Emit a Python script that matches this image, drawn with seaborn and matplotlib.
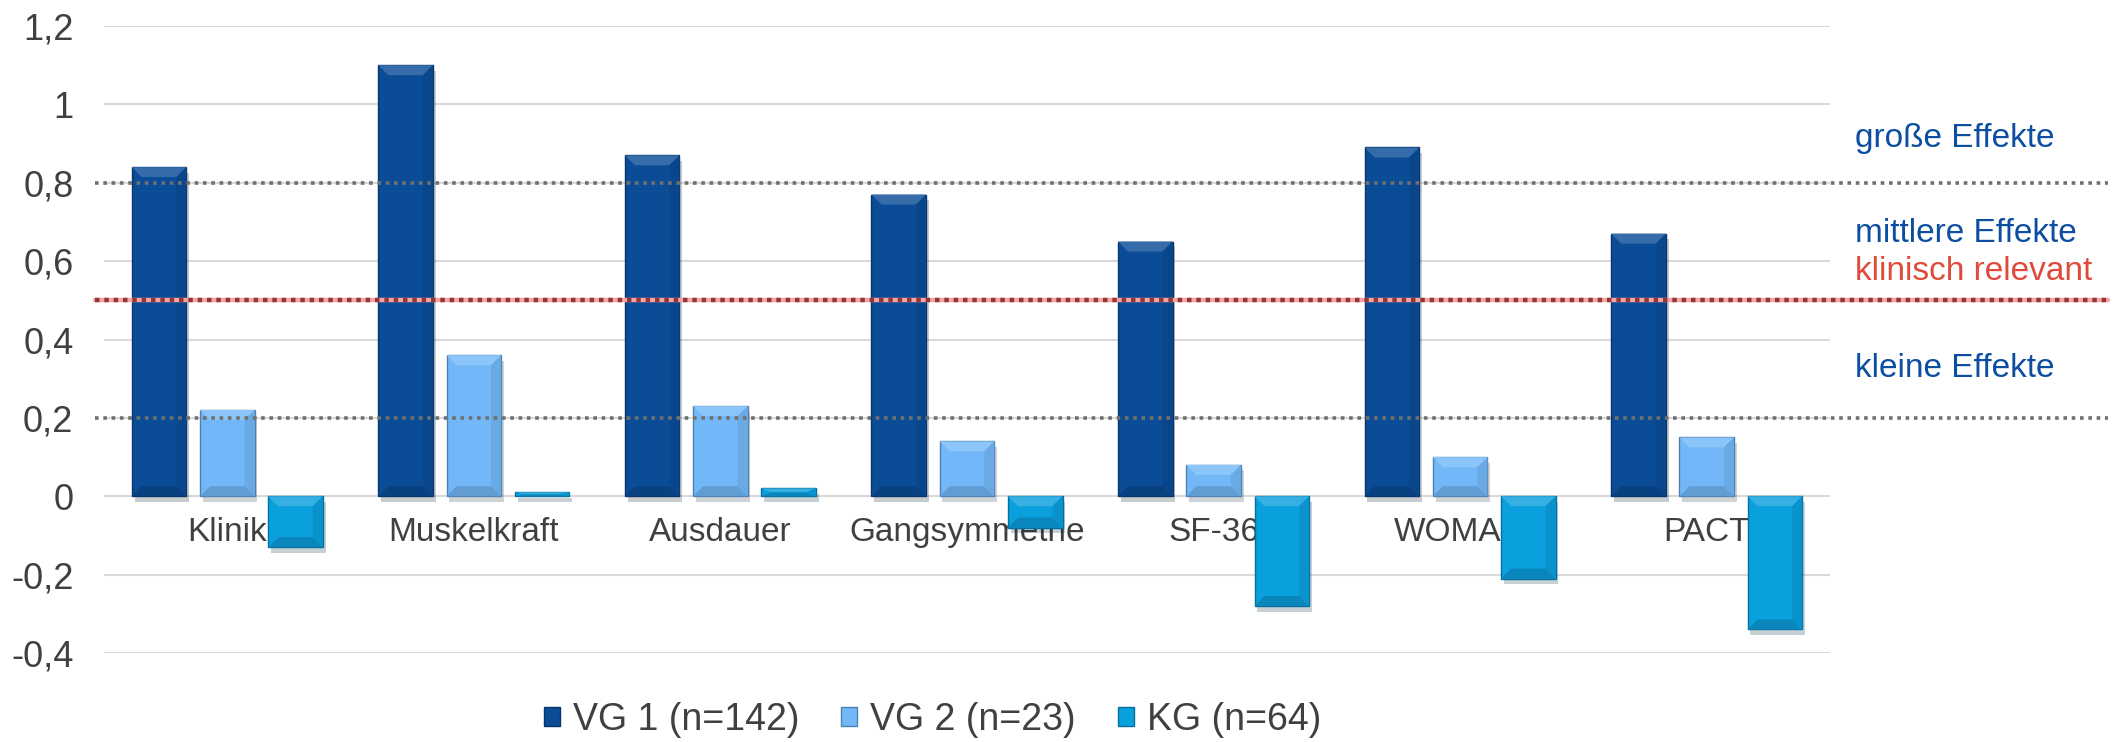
import pandas as pd
import matplotlib.pyplot as plt
import matplotlib.patheffects as pe
import matplotlib.colors as mcolors
from matplotlib.ticker import FuncFormatter
from matplotlib.patches import Patch, Polygon
import seaborn as sns

sns.set_style("white")
plt.rcParams['font.family'] = ['Liberation Sans', 'DejaVu Sans']

categories = ['Klinik', 'Muskelkraft', 'Ausdauer', 'Gangsymmetrie', 'SF-36', 'WOMAC', 'PACT']
groups = ['VG 1 (n=142)', 'VG 2 (n=23)', 'KG (n=64)']
vg1 = [0.84, 1.10, 0.87, 0.77, 0.65, 0.89, 0.67]
vg2 = [0.22, 0.36, 0.23, 0.14, 0.08, 0.10, 0.15]
kg = [-0.13, 0.01, 0.02, -0.08, -0.28, -0.21, -0.34]

bar_colors = ['#0B4C97', '#72B8F8', '#0A9FDD']

# effect size thresholds
thr_small, thr_clin, thr_large = 0.2, 0.5, 0.8
side_labels = [('große Effekte', 0.913, '#0B4EA2'),
               ('mittlere Effekte', 0.67, '#0B4EA2'),
               ('klinisch relevant', 0.574, '#E04A3A'),
               ('kleine Effekte', 0.327, '#0B4EA2')]

df = pd.DataFrame({
    'Kategorie': categories * 3,
    'Gruppe': [g for g in groups for _ in categories],
    'Wert': vg1 + vg2 + kg,
})


def mix(c, other, t):
    a = mcolors.to_rgb(c)
    b = mcolors.to_rgb(other)
    return tuple(a[i] * (1 - t) + b[i] * t for i in range(3))


W, H = 2127, 742
fig = plt.figure(figsize=(W / 100, H / 100), dpi=100)
ax = fig.add_axes([104 / W, 1 - 653 / H, 1726 / W, 627 / H])

sns.barplot(data=df, x='Kategorie', y='Wert', hue='Gruppe', palette=bar_colors, saturation=1,
            width=0.83, gap=0.2, ax=ax, legend=False, zorder=3)

ax.set_xlim(-0.5, len(categories) - 0.5)
ax.set_ylim(-0.4, 1.2)

# bevel look: lighter top facet, darker bottom facet
dx, dy = 10 / 246.6, 10 / 392
for i, cont in enumerate(ax.containers):
    base = bar_colors[i]
    for bar in cont:
        bar.set_edgecolor(mix(base, 'black', 0.3))
        bar.set_linewidth(1.0)
        bar.set_path_effects([pe.SimplePatchShadow(offset=(2, -4), alpha=0.22), pe.Normal()])
        x0 = bar.get_x()
        x1 = x0 + bar.get_width()
        y0 = min(bar.get_y(), bar.get_y() + bar.get_height())
        y1 = max(bar.get_y(), bar.get_y() + bar.get_height())
        d = min(dy, (y1 - y0) / 2)
        ax.add_patch(Polygon([(x0, y1), (x1, y1), (x1 - dx, y1 - d), (x0 + dx, y1 - d)],
                             closed=True, facecolor=mix(base, 'white', 0.18), lw=0, zorder=3.1))
        ax.add_patch(Polygon([(x0, y0), (x1, y0), (x1 - dx, y0 + d), (x0 + dx, y0 + d)],
                             closed=True, facecolor=mix(base, 'black', 0.15), lw=0, zorder=3.1))
        ax.add_patch(Polygon([(x1, y1), (x1, y0), (x1 - dx, y0 + d), (x1 - dx, y1 - d)],
                             closed=True, facecolor=mix(base, 'black', 0.08), lw=0, zorder=3.1))

ax.set_yticks([-0.4, -0.2, 0, 0.2, 0.4, 0.6, 0.8, 1.0, 1.2])
ax.yaxis.set_major_formatter(FuncFormatter(lambda v, p: f"{v:g}".replace('.', ',')))
ax.tick_params(axis='y', length=0, pad=22, labelsize=26, labelcolor='#404040')
ax.set_xticks([])
ax.set_xlabel('')
ax.set_ylabel('')
ax.grid(axis='y', color='#D9D9D9', linewidth=1.5, zorder=0)
sns.despine(ax=ax, left=True, bottom=True, top=True, right=True)

# category labels just below zero line
for i, c in enumerate(categories):
    ax.text(i, -0.092, c, ha='center', va='center', fontsize=24, color='#404040', zorder=2)

# threshold lines extending into right margin
trans = ax.get_yaxis_transform()
for y in (thr_small, thr_large):
    ax.plot([-0.005, 1.161], [y, y], transform=trans, color='#707070', lw=2.6,
            linestyle=(0, (1, 1.3)), clip_on=False, zorder=4, scalex=False)
ax.plot([-0.005, 1.161], [thr_clin, thr_clin], transform=trans, color='#F2A5A5', lw=3.2,
        clip_on=False, zorder=4, scalex=False)
ax.plot([-0.005, 1.161], [thr_clin, thr_clin], transform=trans, color='#963535', lw=3.2,
        linestyle=(0, (1, 1.1)), clip_on=False, zorder=4, scalex=False)
ax.set_xlim(-0.5, len(categories) - 0.5)

for txt, y, col in side_labels:
    ax.text(1.0145, y, txt, transform=trans, ha='left', va='center', fontsize=24, color=col)

handles = [Patch(facecolor=bar_colors[i], edgecolor=mix(bar_colors[i], 'black', 0.3), label=groups[i])
           for i in range(3)]
ax.legend(handles=handles, loc='center', bbox_to_anchor=(0.48, -0.107), ncol=3, frameon=False,
          fontsize=27, handlelength=0.42, handleheight=0.42, handletextpad=0.35,
          columnspacing=1.12, labelcolor='#404040')

fig.savefig('out.png', dpi=100)
